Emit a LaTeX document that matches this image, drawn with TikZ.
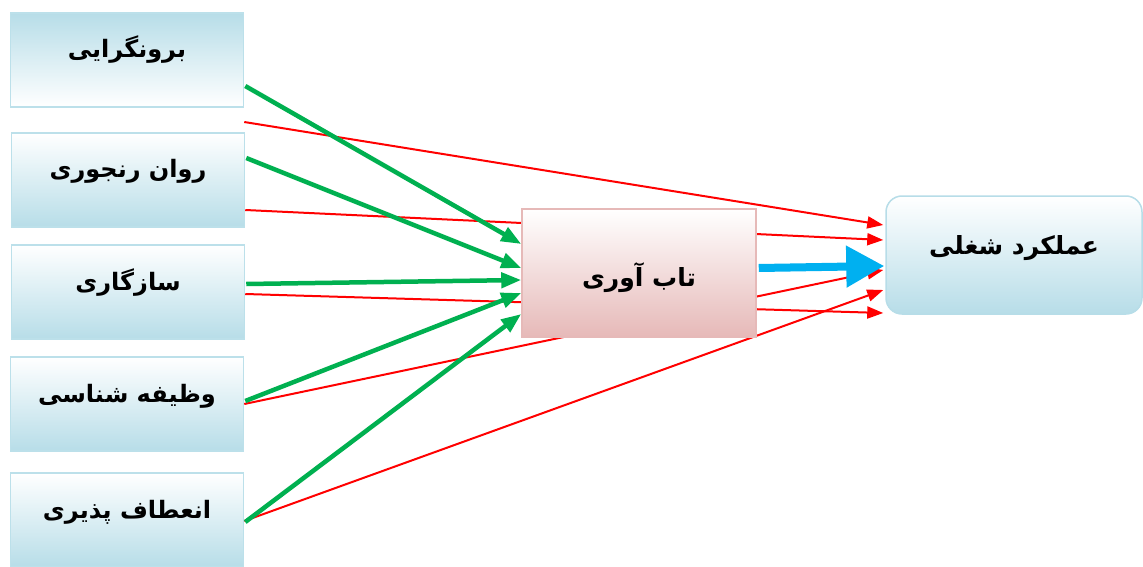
\documentclass[tikz,border=0pt]{standalone}
\usepackage{fontspec}
\TeXXeTstate=1
\newfontfamily\fa[Script=Arabic]{DejaVu Sans}
\usetikzlibrary{arrows.meta,backgrounds}
\definecolor{lblue}{HTML}{B7DDE8}
\definecolor{lbord}{HTML}{BCE0EA}
\definecolor{lpink}{HTML}{E6B9B8}
\definecolor{gline}{HTML}{00B050}
\definecolor{bline}{HTML}{00B0F0}
\tikzset{
  srcbox/.style={draw=lbord, line width=1.5pt, minimum width=233pt, minimum height=94pt,
    inner sep=0pt, font=\fa\bfseries\fontsize{24}{28}\selectfont, top color=white, bottom color=lblue},
  srcboxinv/.style={srcbox, top color=lblue, bottom color=white},
  midbox/.style={draw=lpink, line width=1.5pt, minimum width=234pt, minimum height=128pt,
    inner sep=0pt, font=\fa\bfseries\fontsize{25}{29}\selectfont, top color=white, bottom color=lpink},
  tgtbox/.style={draw=lblue, line width=1.5pt, rounded corners=16pt, minimum width=256pt, minimum height=118pt,
    inner sep=0pt, font=\fa\bfseries\fontsize{25}{29}\selectfont, top color=white, bottom color=lblue},
  garrow/.style={draw=gline, line width=4.5pt, -{Triangle[length=20pt,width=15pt]}},
  rarrow/.style={draw=red, line width=2pt, -{Triangle[length=16pt,width=12pt]}},
  barrow/.style={draw=bline, line width=8pt, -{Triangle[length=38pt,width=40pt]}}
}
\begin{document}
\begin{tikzpicture}[x=1pt,y=-1pt]
\useasboundingbox (0,0) rectangle (1143,567);
\node[srcboxinv] (b1) at (127,60) {\raisebox{2pt}[0pt][0pt]{\beginR برونگرایی\endR}};
\node[srcbox] (b2) at (128,180) {\raisebox{2pt}[0pt][0pt]{\beginR روان رنجوری\endR}};
\node[srcbox] (b3) at (128,292) {\raisebox{2pt}[0pt][0pt]{\beginR سازگاری\endR}};
\node[srcbox] (b4) at (127,404) {\raisebox{2pt}[0pt][0pt]{\beginR وظیفه شناسی\endR}};
\node[srcbox] (b5) at (127,520) {\raisebox{2pt}[0pt][0pt]{\beginR انعطاف پذیری\endR}};
\node[midbox] (m) at (639,273) {\raisebox{-13pt}[0pt][0pt]{\beginR تاب آوری\endR}};
\node[tgtbox] (t) at (1014,255) {\raisebox{1pt}[0pt][0pt]{\beginR عملکرد شغلی\endR}};
\begin{scope}[on background layer]
  \fill[white] (0,0) rectangle (1143,567);
  \draw[rarrow] ([yshift=-62pt]b1.east) -- ([xshift=-2pt,yshift=30pt]t.west);
  \draw[rarrow] ([yshift=-30pt]b2.east) -- ([xshift=-2pt,yshift=15pt]t.west);
  \draw[rarrow] ([yshift=-2pt]b3.east) -- ([xshift=-2pt,yshift=-58pt]t.west);
  \draw[rarrow] ([yshift=0pt]b4.east) -- ([xshift=-2pt,yshift=-15pt]t.west);
  \draw[rarrow] ([yshift=-1pt]b5.east) -- ([xshift=-2pt,yshift=-35pt]t.west);
\end{scope}
\draw[garrow] ([xshift=1pt,yshift=-26pt]b1.east) -- ([yshift=29pt]m.west);
\draw[garrow] ([xshift=1pt,yshift=22pt]b2.east) -- ([yshift=5pt]m.west);
\draw[garrow] ([xshift=1pt,yshift=8pt]b3.east) -- ([yshift=-7pt]m.west);
\draw[garrow] ([xshift=1pt,yshift=3pt]b4.east) -- ([yshift=-20pt]m.west);
\draw[garrow] ([xshift=1pt,yshift=-2pt]b5.east) -- ([yshift=-41pt]m.west);
\draw[barrow] ([xshift=2pt,yshift=5pt]m.east) -- ([xshift=-1pt,yshift=-11pt]t.west);
\end{tikzpicture}
\end{document}
